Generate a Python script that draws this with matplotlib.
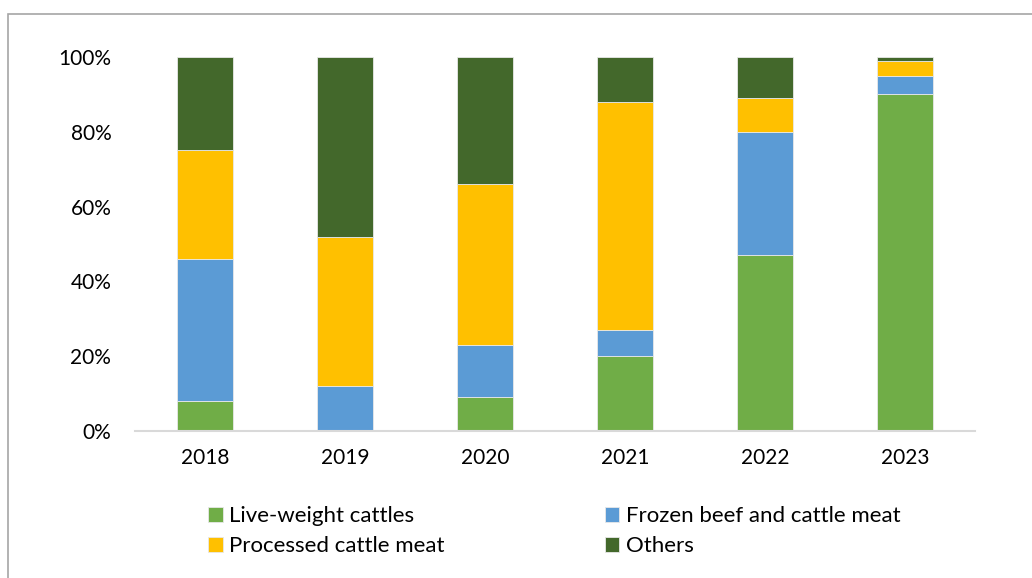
import matplotlib
matplotlib.use("Agg")
import matplotlib.pyplot as plt
from matplotlib.patches import Rectangle
import numpy as np

plt.rcParams['font.family'] = ['Lato', 'DejaVu Sans']

years = ["2018", "2019", "2020", "2021", "2022", "2023"]
live_weight = [8, 0, 9, 20, 47, 90]
frozen_beef = [38, 12, 14, 7, 33, 5]
processed = [29, 40, 43, 61, 9, 4]
others = [25, 48, 34, 12, 11, 1]

series = [
    ("Live-weight cattles", live_weight, "#70AD47"),
    ("Frozen beef and cattle meat", frozen_beef, "#5B9BD5"),
    ("Processed cattle meat", processed, "#FFC000"),
    ("Others", others, "#43682B"),
]

fig = plt.figure(figsize=(10.32, 5.78), dpi=100)
ax = fig.add_axes([0.1308, 0.2543, 0.814, 0.6471])

x = np.arange(len(years))
bottom = np.zeros(len(years))
handles = {}
for name, vals, color in series:
    vals = np.array(vals) / 100.0
    b = ax.bar(x, vals, 0.4, bottom=bottom, color=color,
               edgecolor="#E8E8E8", linewidth=0.6, label=name, zorder=2)
    handles[name] = b
    bottom += vals

ax.set_xlim(-0.5, len(years) - 0.5)
ax.set_ylim(0, 1)
ax.set_yticks(np.linspace(0, 1, 6))
ax.set_yticklabels([f"{int(v)}%" for v in np.linspace(0, 100, 6)])
ax.set_xticks(x)
ax.set_xticklabels(years)
ax.tick_params(axis="both", length=0, labelsize=15, colors="#000000")
ax.tick_params(axis="y", pad=17)
ax.tick_params(axis="x", pad=12)
for s in ["top", "right", "left"]:
    ax.spines[s].set_visible(False)
ax.spines["bottom"].set_color("#D9D9D9")
ax.spines["bottom"].set_linewidth(1.5)
ax.spines["bottom"].set_zorder(3)

# legend fills column by column, so order gives row-wise reading like Excel
order = ["Live-weight cattles", "Processed cattle meat",
         "Frozen beef and cattle meat", "Others"]
fig.legend([handles[n] for n in order], order, ncol=2, frameon=False,
           loc="upper left", bbox_to_anchor=(0.193, 0.14),
           fontsize=16, handlelength=0.65, handleheight=0.65,
           handletextpad=0.3, columnspacing=7.2, labelspacing=0.45,
           borderaxespad=0)

# outer chart frame
fig.patches.append(Rectangle((7.5 / 1032, -0.05), 1.2, 1 - 14 / 578 + 0.05,
                             transform=fig.transFigure, fill=False,
                             edgecolor="#A6A6A6", linewidth=1.2, zorder=0))

fig.savefig("out.png", dpi=100)
